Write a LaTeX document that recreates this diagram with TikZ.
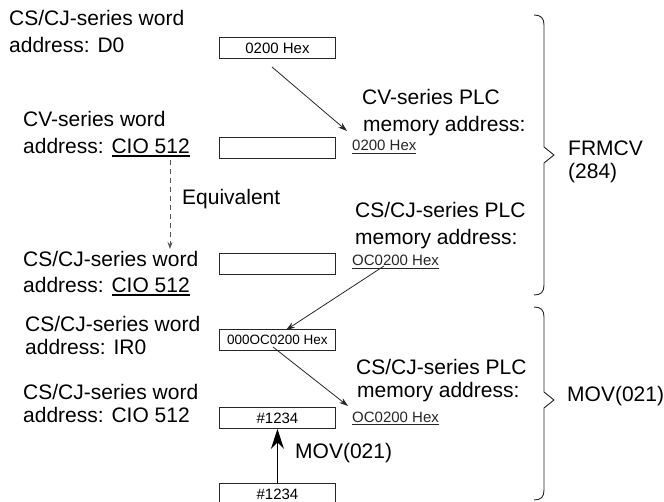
\documentclass[tikz,border=0pt]{standalone}
\usepackage{fontspec}
\setmainfont{Liberation Sans}
\usetikzlibrary{arrows.meta,calc}
\definecolor{linec}{HTML}{262626}
\definecolor{dashc}{HTML}{555555}
\newsavebox\ulbox
\newcommand{\myul}[2]{\sbox\ulbox{#2}\rlap{\rule[-3.2pt]{\wd\ulbox}{#1}}\usebox\ulbox}
\begin{document}
\begin{tikzpicture}[x=1pt,y=-1pt,
  big/.style={font=\fontsize{21}{25}\selectfont, inner sep=0pt, anchor=base west},
  small/.style={font=\fontsize{15}{18}\selectfont, inner sep=0pt, anchor=base west, text=black!85},
  cell/.style={draw=linec, line width=0.9pt, minimum width=116pt, minimum height=21pt,
    inner sep=0pt, anchor=north west, font=\fontsize{15}{18}\selectfont},
  arr/.style={draw=linec, line width=0.8pt, -{Stealth[length=9pt,width=6pt]}},
  eqarr/.style={draw=dashc, line width=0.8pt, dash pattern=on 5pt off 4pt, -{Stealth[length=7pt,width=5pt]}},
  movarr/.style={draw=black, line width=1.6pt, -{Stealth[length=20pt,width=13pt]}},
  brace/.style={draw=linec, line width=0.9pt}]
\useasboundingbox (0,0) rectangle (664,502);

% left labels
\node[big] (g1a) at (9,26) {CS/CJ-series word};
\node[big] (g1b) at (9,53) {address: D0};
\node[big] (g2a) at (23,127) {CV-series word};
\node[big] (g2b) at (23,154) {address: \myul{1.8pt}{CIO 512}};
\node[big] (eq) at (182,205) {Equivalent};
\node[big] (g3a) at (23,267) {CS/CJ-series word};
\node[big] (g3b) at (23,293) {address: \myul{1.8pt}{CIO 512}};
\node[big] (g4a) at (25,332) {CS/CJ-series word};
\node[big] (g4b) at (25,355) {address: IR0};
\node[big] (g5a) at (23,400) {CS/CJ-series word};
\node[big] (g5b) at (23,423) {address: CIO 512};

% boxes
\node[cell] (b1) at (219,37) {0200 Hex};
\node[cell] (b2) at (219,137) {};
\node[cell] (b3) at (219,253) {};
\node[cell, font=\fontsize{13.5}{16}\selectfont] (b4) at (219,329) {000OC0200 Hex};
\node[cell] (b5) at (219,407) {\#1234};
\node[cell] (b6) at (219,483) {\#1234};

% right labels
\node[big] (r1a) at (362,105) {CV-series PLC};
\node[big] (r1b) at (363,132) {memory address:};
\node[small] (r1c) at (352,151) {\myul{0.8pt}{0200 Hex}};
\node[big] (r2a) at (355,218) {CS/CJ-series PLC};
\node[big] (r2b) at (355,245) {memory address:};
\node[small] (r2c) at (352,266) {\myul{0.8pt}{OC0200 Hex}};
\node[big] (r3a) at (356,375) {CS/CJ-series PLC};
\node[big] (r3b) at (357,398) {memory address:};
\node[small] (r3c) at (352,422) {\myul{0.8pt}{OC0200 Hex}};
\node[big] (mov) at (295,458) {MOV(021)};
\node[big] (f1) at (568,156) {FRMCV};
\node[big] (f2) at (568,179) {(284)};
\node[big] (m2) at (567,402) {MOV(021)};

% braces
\draw[brace] (534,15) .. controls (541,15) and (544,18) .. (544,25) -- (544,147)
  -- (554,155) -- (544,163) -- (544,285) .. controls (544,292) and (541,295) .. (534,295);
\draw[brace] (534,307) .. controls (541,307) and (544,310) .. (544,317) -- (544,392)
  -- (554,400) -- (544,408) -- (544,490) .. controls (544,497) and (541,500) .. (534,500);

% connectors
\coordinate (a1s) at (272,67);
\coordinate (a1e) at (347,131);
\draw[arr] (a1s) -- (a1e);
\coordinate (a2s) at (384,266);
\coordinate (a2e) at (286,330);
\draw[arr] (a2s) -- (a2e);
\coordinate (a3s) at (273,347);
\coordinate (a3e) at (348,406);
\draw[arr] (a3s) -- (a3e);
\coordinate (d1) at (170,160);
\coordinate (d2) at (170,249);
\draw[eqarr] (d1) -- (d2);
\draw[movarr] (b6.north) -- (b5.south);
\end{tikzpicture}
\end{document}
